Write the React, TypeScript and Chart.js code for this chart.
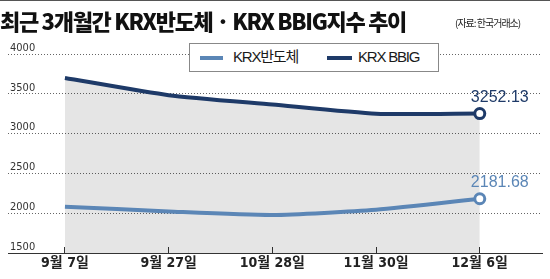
import React, { useEffect, useRef } from "react";
import { Chart, registerables } from "chart.js";

Chart.register(...registerables);

const dates = ["9월 7일", "9월 27일", "10월 28일", "11월 30일", "12월 6일"];
const semiValues = [2082, 2022, 1978, 2043, 2181.68];
const bbigValues = [3699, 3483, 3365, 3250, 3252.13];
const yTicks = [1500, 2000, 2500, 3000, 3500, 4000];
const seriesNames = ["KRX반도체", "KRX BBIG"];
const endLabels = ["2181.68", "3252.13"];

const SEMI = "#5b86b6";
const BBIG = "#1e3a68";
const LATIN_CJK = '"Liberation Sans Narrow", "DejaVu Sans Condensed", "Noto Sans CJK KR", sans-serif';

const endLabelPlugin = {
  id: "endLabels",
  afterDatasetsDraw(chart: any) {
    const ctx = chart.ctx;
    ctx.save();
    ctx.font = '16px "Liberation Sans", "Noto Sans CJK KR", sans-serif';
    ctx.textAlign = "center";
    ctx.textBaseline = "middle";
    chart.data.datasets.forEach((ds: any, i: number) => {
      const meta = chart.getDatasetMeta(i);
      const pt = meta.data[meta.data.length - 1];
      ctx.fillStyle = ds.borderColor;
      ctx.fillText(endLabels[i], pt.x + 20, pt.y - 16);
    });
    ctx.restore();
  },
};

export default function App() {
  const ref = useRef<HTMLCanvasElement>(null);
  useEffect(() => {
    document.body.style.margin = "0";
    const last = dates.length - 1;
    const chart = new Chart(ref.current!, {
      type: "line",
      data: {
        datasets: [
          {
            label: seriesNames[0],
            data: semiValues.map((v, i) => ({ x: i, y: v })),
            borderColor: SEMI,
            borderWidth: 4,
            tension: 0.2,
            pointRadius: semiValues.map((_, i) => (i === last ? 5 : 0)),
            pointBackgroundColor: "#ffffff",
            pointBorderColor: SEMI,
            pointBorderWidth: 3,
            fill: false,
          },
          {
            label: seriesNames[1],
            data: bbigValues.map((v, i) => ({ x: i, y: v })),
            borderColor: BBIG,
            borderWidth: 4,
            tension: 0.2,
            pointRadius: bbigValues.map((_, i) => (i === last ? 5 : 0)),
            pointBackgroundColor: "#ffffff",
            pointBorderColor: BBIG,
            pointBorderWidth: 3,
            fill: "start",
            backgroundColor: "rgba(0,0,0,0.1)",
          },
        ],
      },
      options: {
        responsive: false,
        animation: false,
        devicePixelRatio: 1,
        layout: { padding: { top: 54, left: 0, right: 3, bottom: 0 } },
        plugins: { legend: { display: false }, tooltip: { enabled: false } },
        scales: {
          x: {
            type: "linear",
            min: -0.549,
            max: 4.6,
            afterBuildTicks: (scale: any) => {
              scale.ticks = dates.map((_, i) => ({ value: i }));
            },
            ticks: {
              autoSkip: false,
              maxRotation: 0,
              padding: 9,
              color: "#222",
              font: { family: LATIN_CJK, size: 14, weight: "bold", lineHeight: 1 },
              callback: (v: any) => dates[v as number],
            },
            grid: {
              drawOnChartArea: false,
              drawTicks: true,
              tickLength: -6,
              color: "#333",
            },
            border: { display: true, color: "#333", width: 1 },
          },
          y: {
            min: yTicks[0],
            max: yTicks[yTicks.length - 1],
            afterBuildTicks: (scale: any) => {
              scale.ticks = yTicks.map((v) => ({ value: v }));
            },
            ticks: {
              mirror: true,
              padding: 2,
              labelOffset: -6,
              color: "#333",
              font: { family: LATIN_CJK, size: 11 },
              callback: (v: any) => String(v),
            },
            grid: {
              drawTicks: false,
              color: "#666",
              lineWidth: 1,
              borderDash: [1, 2],
            } as any,
            border: { display: false, dash: [1, 2] },
          },
        },
      },
      plugins: [endLabelPlugin],
    });
    return () => chart.destroy();
  }, []);

  const legendText: React.CSSProperties = {
    position: "absolute",
    top: 46,
    fontFamily: '"Liberation Sans", "Noto Sans CJK KR", sans-serif',
    fontSize: 15,
    letterSpacing: -1.2,
    color: "#1a1a1a",
    lineHeight: "22px",
    whiteSpace: "nowrap",
  };

  return (
    <div style={{ position: "relative", width: 550, height: 279, overflow: "hidden", background: "#fff" }}>
      <canvas ref={ref} width={550} height={279} style={{ display: "block", position: "absolute", left: 0, top: 0 }} />
      <div style={{ position: "absolute", left: 0, top: 0, width: 550, height: 1, background: "#555" }} />
      <div
        style={{
          position: "absolute",
          left: 0,
          top: 5,
          fontFamily: '"Noto Sans CJK KR Black", "Noto Sans CJK KR", sans-serif',
          fontWeight: 900,
          fontSize: 22,
          letterSpacing: -1.3,
          lineHeight: "30px",
          color: "#111",
          whiteSpace: "nowrap",
        }}
      >
        최근 3개월간 KRX반도체 · KRX BBIG지수 추이
      </div>
      <div
        style={{
          position: "absolute",
          left: 455,
          top: 15,
          fontFamily: '"Noto Sans CJK KR", sans-serif',
          fontSize: 10,
          letterSpacing: -1,
          lineHeight: "16px",
          color: "#222",
          whiteSpace: "nowrap",
        }}
      >
        (자료: 한국거래소)
      </div>
      <div
        style={{
          position: "absolute",
          left: 189,
          top: 43,
          width: 250,
          height: 29,
          boxSizing: "border-box",
          border: "1px solid #888",
          background: "#fff",
        }}
      />
      <div style={{ position: "absolute", left: 200, top: 56, width: 23, height: 4, background: SEMI }} />
      <div style={{ ...legendText, left: 233 }}>{seriesNames[0]}</div>
      <div style={{ position: "absolute", left: 327, top: 56, width: 25, height: 4, background: BBIG }} />
      <div style={{ ...legendText, left: 358 }}>{seriesNames[1]}</div>
    </div>
  );
}
